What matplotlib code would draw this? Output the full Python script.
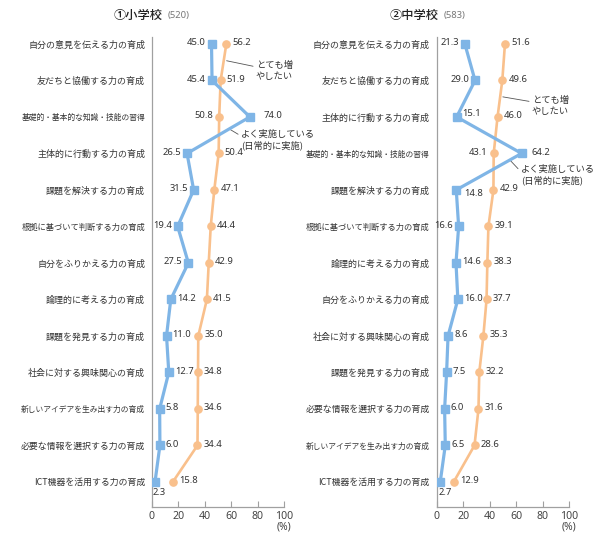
import matplotlib
matplotlib.use("Agg")
import matplotlib.pyplot as plt

plt.rcParams['font.family'] = ['Noto Sans CJK JP', 'DejaVu Sans']

# ---- data ----
elem_title = "①小学校"
elem_n = "(520)"
elem_cats = ["自分の意見を伝える力の育成", "友だちと協働する力の育成", "基礎的・基本的な知識・技能の習得",
             "主体的に行動する力の育成", "課題を解決する力の育成", "根拠に基づいて判断する力の育成",
             "自分をふりかえる力の育成", "論理的に考える力の育成", "課題を発見する力の育成",
             "社会に対する興味関心の育成", "新しいアイデアを生み出す力の育成", "必要な情報を選択する力の育成",
             "ICT機器を活用する力の育成"]
elem_practice = [45.0, 45.4, 74.0, 26.5, 31.5, 19.4, 27.5, 14.2, 11.0, 12.7, 5.8, 6.0, 2.3]
elem_increase = [56.2, 51.9, 50.8, 50.4, 47.1, 44.4, 42.9, 41.5, 35.0, 34.8, 34.6, 34.4, 15.8]

mid_title = "②中学校"
mid_n = "(583)"
mid_cats = ["自分の意見を伝える力の育成", "友だちと協働する力の育成", "主体的に行動する力の育成",
            "基礎的・基本的な知識・技能の習得", "課題を解決する力の育成", "根拠に基づいて判断する力の育成",
            "論理的に考える力の育成", "自分をふりかえる力の育成", "社会に対する興味関心の育成",
            "課題を発見する力の育成", "必要な情報を選択する力の育成", "新しいアイデアを生み出す力の育成",
            "ICT機器を活用する力の育成"]
mid_practice = [21.3, 29.0, 15.1, 64.2, 14.8, 16.6, 14.6, 16.0, 8.6, 7.5, 6.0, 6.5, 2.7]
mid_increase = [51.6, 49.6, 46.0, 43.1, 42.9, 39.1, 38.3, 37.7, 35.3, 32.2, 31.6, 28.6, 12.9]

label_practice = "よく実施している\n(日常的に実施)"
label_increase = "とても増\nやしたい"
x_ticks = [0, 20, 40, 60, 80, 100]

# label placement (style)
elem_p_pos = ['l', 'l', 'R', 'l', 'l', 'l', 'l', 'r', 'r', 'r', 'r', 'r', 'b']
elem_i_pos = ['r', 'r', 'l', 'r', 'r', 'r', 'r', 'r', 'r', 'r', 'r', 'r', 'r']
mid_p_pos = ['l', 'l', 'ru', 'R', 'rd', 'l', 'r', 'r', 'r', 'r', 'r', 'r', 'b']
mid_i_pos = ['r', 'r', 'r', 'l', 'r', 'r', 'r', 'r', 'r', 'r', 'r', 'r', 'r']

BLUE = '#7fb5e6'
ORANGE = '#f9c08c'
TXT = '#333333'
GRID = '#a0a0a0'

fig = plt.figure(figsize=(6.0, 5.35), dpi=100)


def place(ax, x, y, v, pos, off_big):
    s = f"{v:.1f}"
    kw = dict(fontsize=6.8, color=TXT, textcoords='offset pixels', va='center',
              family=['Noto Sans', 'DejaVu Sans'])
    if pos == 'l':
        ax.annotate(s, (x, y), xytext=(-6, 1), ha='right', **kw)
    elif pos == 'r':
        ax.annotate(s, (x, y), xytext=(6, 1), ha='left', **kw)
    elif pos == 'R':
        ax.annotate(s, (x, y), xytext=(off_big, 1), ha='left', **kw)
    elif pos == 'ru':
        ax.annotate(s, (x, y), xytext=(6, 3), ha='left', **kw)
    elif pos == 'rd':
        ax.annotate(s, (x, y), xytext=(8, -4), ha='left', **kw)
    elif pos == 'b':
        ax.annotate(s, (x, y), xytext=(-2, -11), ha='left', **kw)


def panel(left, cats, practice, increase, ppos, ipos, title, n, title_right, big_off,
          inc_anno, prac_anno):
    ax = fig.add_axes([left, 0.0523, 0.2205, 0.8785])
    y = list(range(len(cats)))
    ax.plot(increase, y, color=ORANGE, lw=1.9, marker='o', ms=5.2, zorder=3,
            solid_joinstyle='round')
    ax.plot(practice, y, color=BLUE, lw=2.3, marker='s', ms=5.2, zorder=4,
            solid_joinstyle='miter')
    ax.set_xlim(0, 100)
    ax.set_ylim(len(cats) - 1 + 0.69, -0.19)
    ax.set_yticks(y)
    ax.set_yticklabels(cats, color=TXT)
    for lab, c in zip(ax.get_yticklabels(), cats):
        px = min(9.0, 124.0 / len(c))
        lab.set_fontsize(px * 0.72)
    ax.tick_params(axis='y', length=0, pad=5)
    ax.set_xticks(x_ticks)
    ax.set_xticklabels([str(t) for t in x_ticks], fontsize=7.6, color='#444444',
                       family=['Noto Sans', 'DejaVu Sans'])
    ax.tick_params(axis='x', direction='in', length=4, color=GRID, width=0.8, pad=3)
    for sp in ['top', 'right']:
        ax.spines[sp].set_visible(False)
    for sp in ['left', 'bottom']:
        ax.spines[sp].set_color(GRID)
        ax.spines[sp].set_linewidth(0.9)
    ax.annotate("(%)", (1.0, 0.0), xycoords='axes fraction', xytext=(0, -20),
                textcoords='offset pixels', ha='center', va='center',
                fontsize=7.4, color='#444444', family=['Noto Sans', 'DejaVu Sans'])
    for i in y:
        place(ax, practice[i], i, practice[i], ppos[i], big_off)
        place(ax, increase[i], i, increase[i], ipos[i], big_off)
    # titles
    fig.text(title_right, 1 - 15 / 535, title, ha='right', va='center',
             fontsize=8.8, color='#222222', fontweight='medium')
    fig.text(title_right + 5 / 600, 1 - 15.5 / 535, n, ha='left', va='center',
             fontsize=6.8, color='#777777', family=['Noto Sans', 'DejaVu Sans'])
    # annotations
    for (label, ((ax0, ay0), (tx, ty))) in [(label_increase, inc_anno),
                                             (label_practice, prac_anno)]:
        ax.annotate(label, xy=(ax0, ay0), xytext=(tx, ty), fontsize=6.7,
                    color=TXT, ha='left', va='center', linespacing=1.2,
                    arrowprops=dict(arrowstyle='-', color='#555555', lw=0.6,
                                    shrinkA=0, shrinkB=0, relpos=(-0.02, 0.72)))
    return ax


panel(0.2533, elem_cats, elem_practice, elem_increase, elem_p_pos, elem_i_pos,
      elem_title, elem_n, 163 / 600, 14,
      ((56.4, 0.46), (78.5, 0.74)),
      ((58.9, 2.34), (67.2, 2.62)))
panel(0.7278, mid_cats, mid_practice, mid_increase, mid_p_pos, mid_i_pos,
      mid_title, mid_n, 439 / 600, 10,
      ((50.0, 1.45), (71.9, 1.70)),
      ((55.3, 3.18), (63.6, 3.58)))

fig.savefig("out.png", dpi=100)
